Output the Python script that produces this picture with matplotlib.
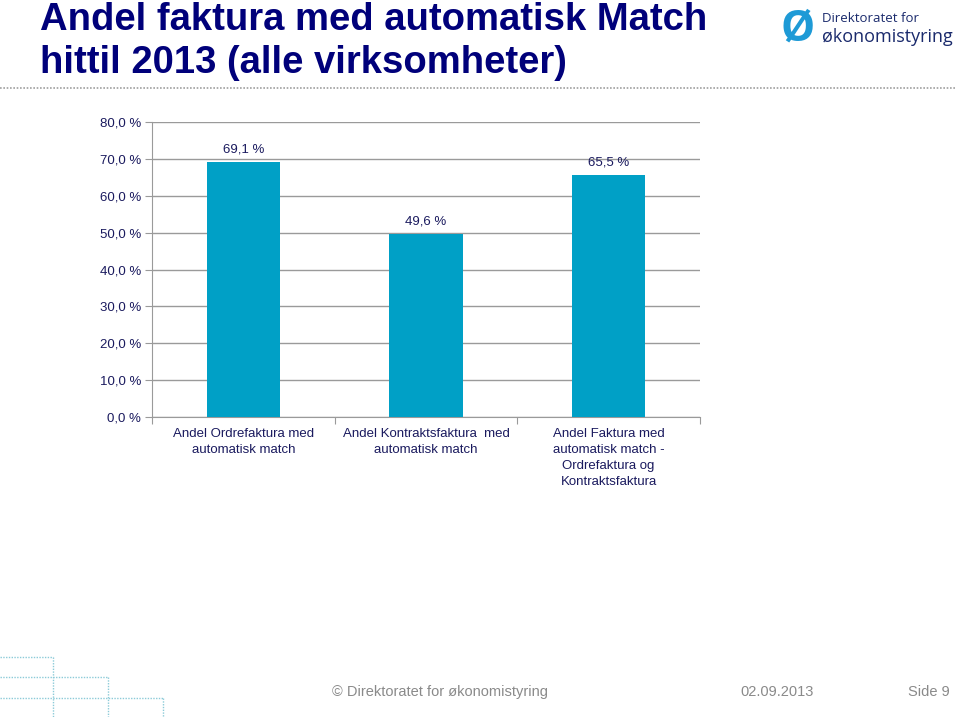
import matplotlib.pyplot as plt

categories = [
    'Andel Ordrefaktura med\nautomatisk match',
    'Andel Kontraktsfaktura  med\nautomatisk match',
    'Andel Faktura med\nautomatisk match -\nOrdrefaktura og\nKontraktsfaktura',
]
values = [69.1, 49.6, 65.5]
yticks = [0, 10, 20, 30, 40, 50, 60, 70, 80]

navy = '#1a1a5e'
bar_color = '#00A0C6'
grid_color = '#9a9a9a'

plt.rcParams['font.family'] = ['Liberation Sans', 'DejaVu Sans']

fig = plt.figure(figsize=(9.6, 7.17), dpi=100)
W, H = 960, 717


def fx(px):
    return px / W


def fy(py):
    return 1 - py / H


# title
fig.text(fx(40), fy(20), 'Andel faktura med automatisk Match', fontsize=27.5, fontweight='bold',
         color='#00007a', va='center', ha='left')
fig.text(fx(40), fy(63), 'hittil 2013 (alle virksomheter)', fontsize=27.5, fontweight='bold',
         color='#00007a', va='center', ha='left')

# logo
fig.text(fx(798), fy(29), 'Ø', fontsize=31, fontweight='bold', color='#1e9ad6',
         ha='center', va='center', family='Open Sans')
fig.text(fx(822), fy(18), 'Direktoratet for', fontsize=9.5, color='#1a2a6c', ha='left', va='center',
         family='Open Sans')
fig.text(fx(822), fy(37), 'økonomistyring', fontsize=13, color='#1a2a6c', ha='left', va='center',
         family='Open Sans')

# dotted separator
fig.add_artist(plt.Line2D([0, fx(955)], [fy(88), fy(88)], color='#a0a0a0', lw=1.2,
                          linestyle=(0, (1, 1)), transform=fig.transFigure))

# decorative steps bottom left
step_color = '#8ccbd8'
for yy, xx in [(657, 53), (677, 108), (698, 163)]:
    fig.add_artist(plt.Line2D([0, fx(xx)], [fy(yy), fy(yy)], color=step_color, lw=1,
                              linestyle=(0, (1, 1)), transform=fig.transFigure))
    fig.add_artist(plt.Line2D([fx(xx), fx(xx)], [fy(yy), 0], color=step_color, lw=1,
                              linestyle=(0, (1, 1)), transform=fig.transFigure))

# footer
fig.text(fx(332), fy(692), '© Direktoratet for økonomistyring', fontsize=10.5, color='#8a8a8a',
         ha='left', va='center')
fig.text(fx(740), fy(692), '02.09.2013', fontsize=10.5, color='#8a8a8a', ha='left', va='center')
fig.text(fx(950), fy(692), 'Side 9', fontsize=10.5, color='#8a8a8a', ha='right', va='center')

# chart
ax = fig.add_axes([fx(152), fy(417), fx(700) - fx(152), fy(122) - fy(417)])
x = list(range(len(categories)))
bars = ax.bar(x, values, width=0.4, color=bar_color, zorder=3)
ax.set_xlim(-0.5, len(categories) - 0.5)
ax.set_ylim(0, 80)
ax.set_yticks(yticks)
ax.set_yticklabels([f'{v:.1f} %'.replace('.', ',') for v in yticks], fontsize=9.5, color=navy)
ax.yaxis.grid(True, color=grid_color, lw=1, zorder=0)
ax.set_axisbelow(True)

for b, v in zip(bars, values):
    ax.annotate(f'{v:.1f} %'.replace('.', ','), (b.get_x() + b.get_width() / 2, v),
                xytext=(0, 5), textcoords='offset points', ha='center', va='bottom',
                fontsize=9.5, color=navy)

ax.set_xticks([-0.5, 0.5, 1.5, 2.5])
ax.set_xticklabels([])
ax.set_xticks(x, minor=True)
ax.set_xticklabels(categories, minor=True, fontsize=9.5, color=navy, linespacing=1.45)
ax.tick_params(axis='x', which='minor', length=0, pad=8)
ax.tick_params(axis='x', which='major', length=5, color=grid_color)
ax.tick_params(axis='y', length=5, color=grid_color, pad=3)

for s in ['top', 'right']:
    ax.spines[s].set_visible(False)
for s in ['left', 'bottom']:
    ax.spines[s].set_color(grid_color)

fig.savefig('out.png', dpi=100)
